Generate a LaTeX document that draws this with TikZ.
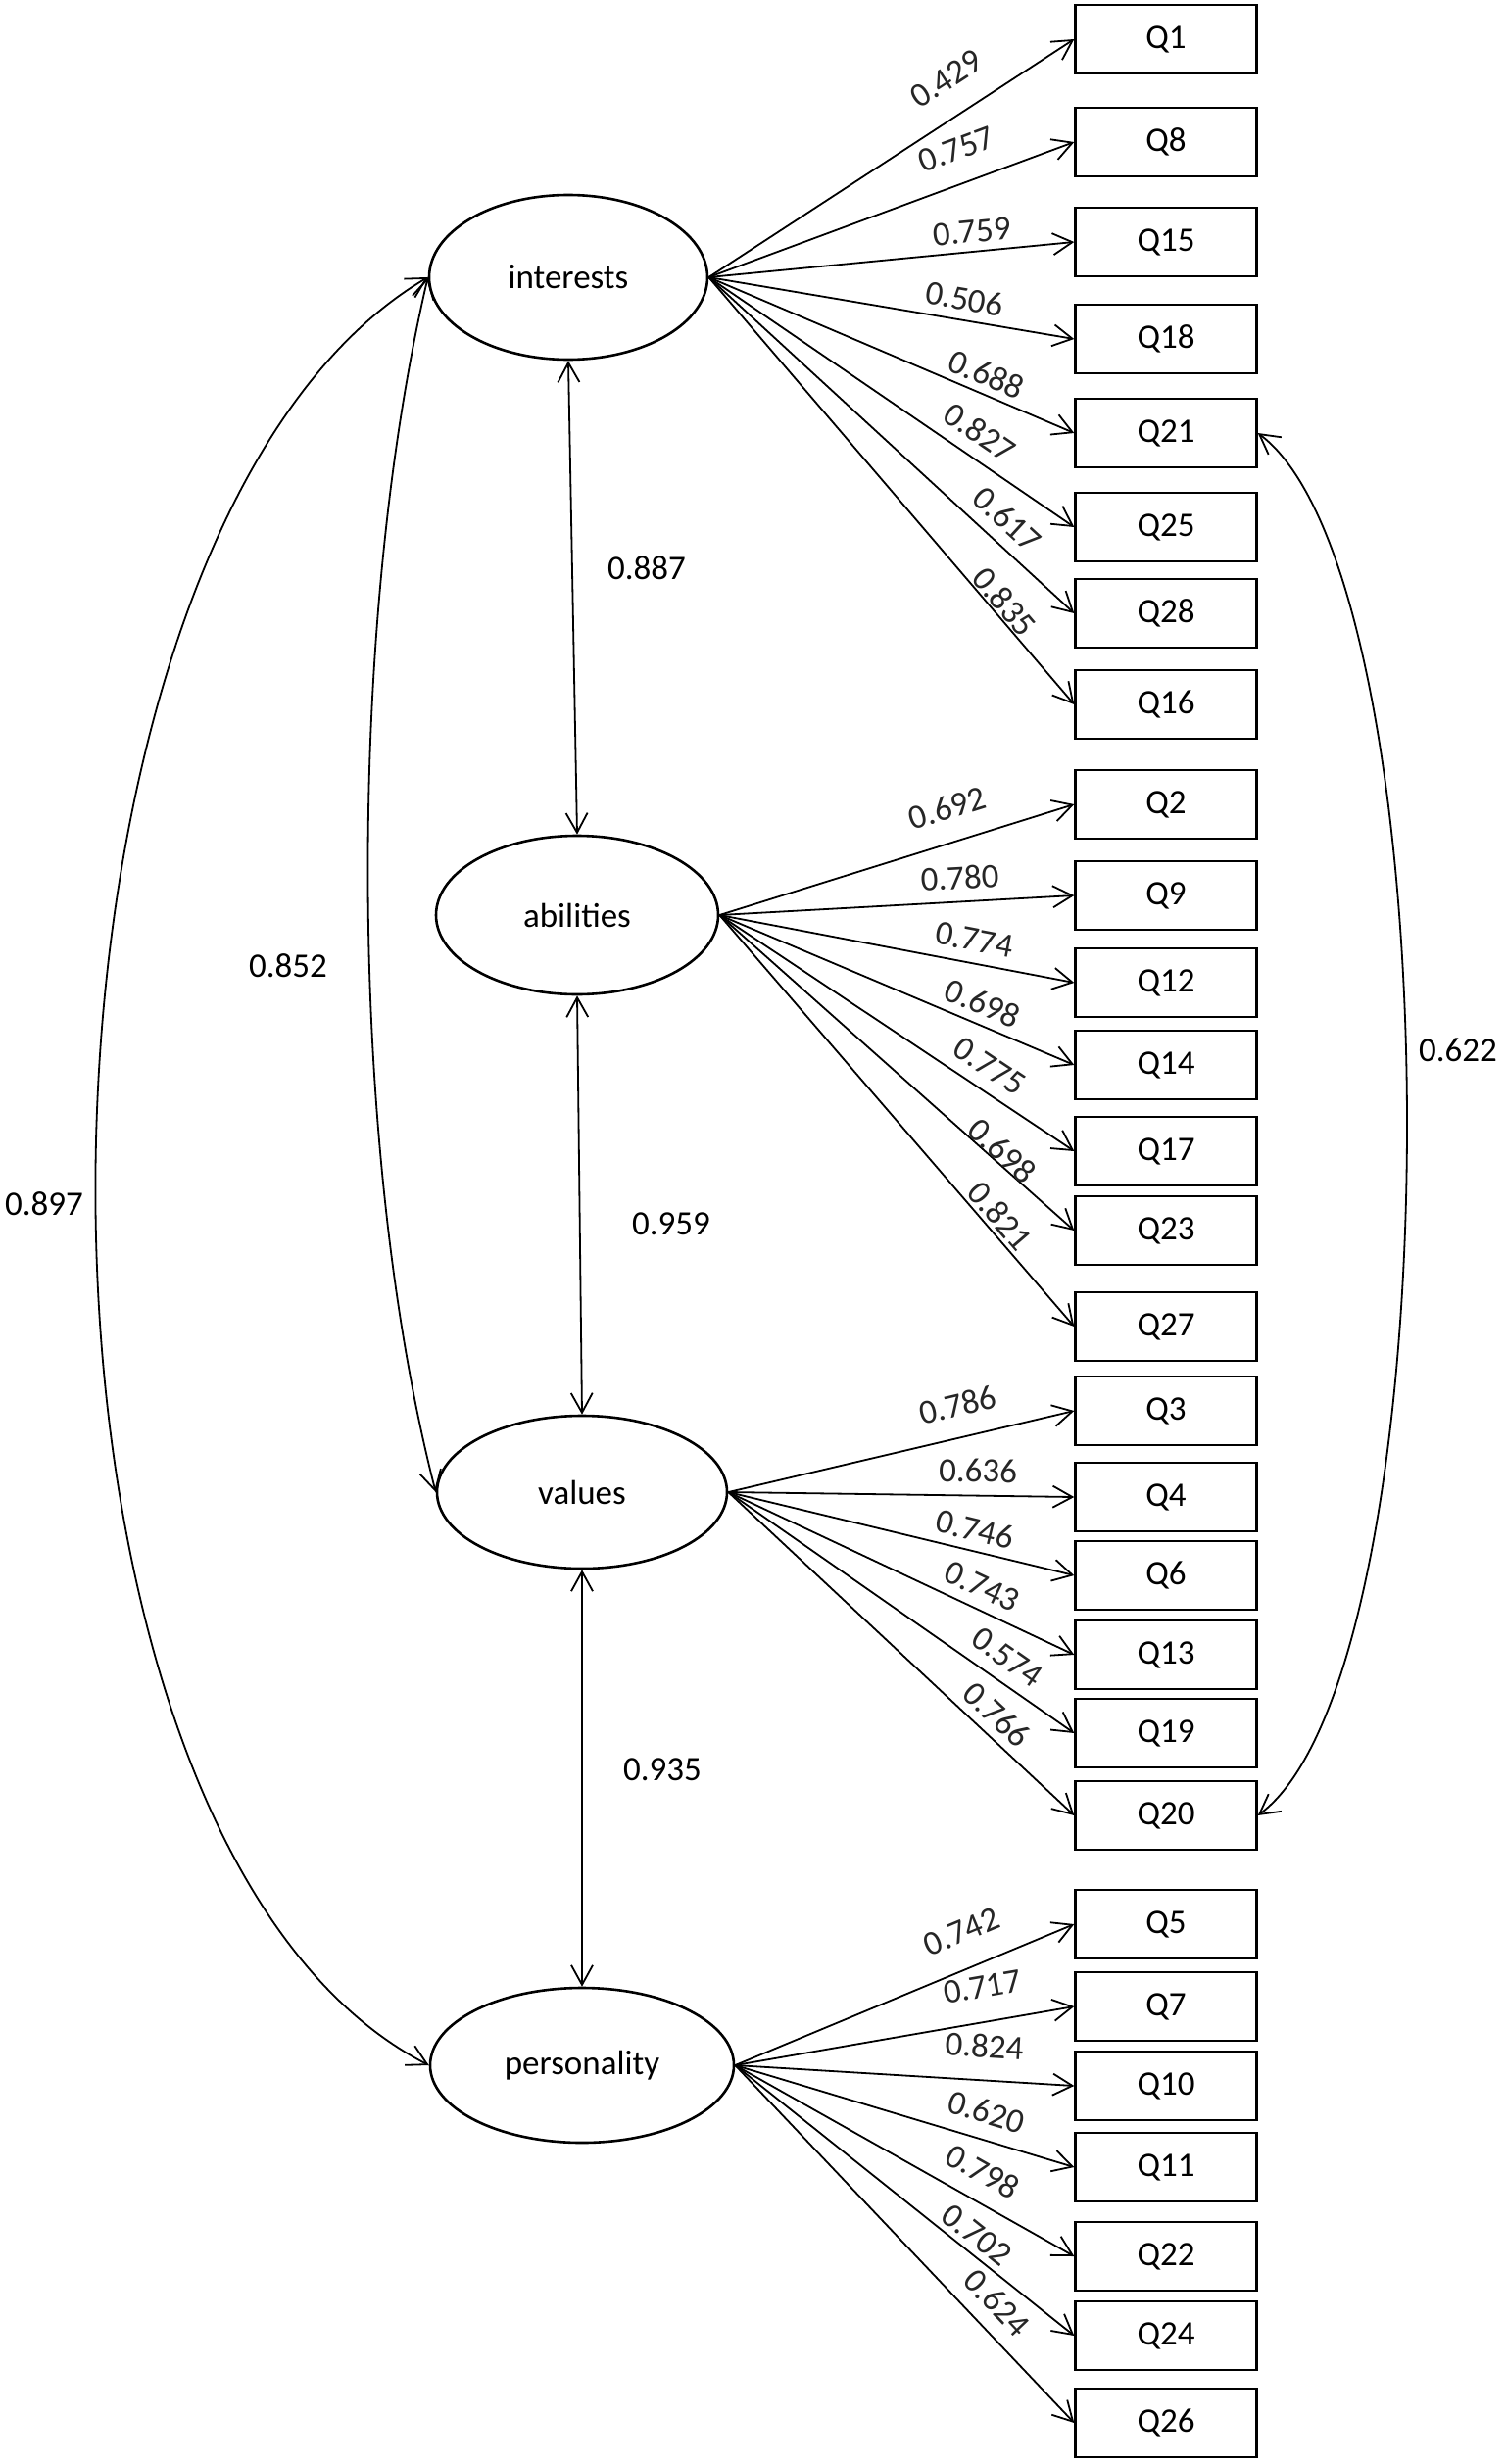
\documentclass[tikz,border=0pt]{standalone}
\usepackage{fontspec}
\setmainfont{Carlito}
\usetikzlibrary{shapes.geometric,arrows.meta}
\newcommand\lblfont{\fontsize{17.5pt}{21pt}\selectfont}
\begin{document}
\begin{tikzpicture}[x=0.5pt,y=-0.5pt,
  lat/.style={ellipse,draw,line width=1.3pt,inner sep=0pt,font=\lblfont},
  obs/.style={rectangle,draw,line width=1.2pt,minimum width=92.5pt,minimum height=35pt,inner sep=0pt,font=\lblfont},
  conn/.style={-{Straight Barb[length=10pt,width=11pt]},line width=0.9pt},
  cov/.style={{Straight Barb[length=10pt,width=11pt]}-{Straight Barb[length=10pt,width=11pt]},line width=0.9pt},
  lab/.style={sloped,anchor=south,inner sep=0pt,font=\lblfont,text=black!85},
  num/.style={font=\lblfont,inner sep=0pt}]
\fill[white] (0,0) rectangle (1536,2515);
\useasboundingbox (0,0) rectangle (1536,2515);

% latent variables
\node[lat,minimum width=142pt,minimum height=84pt] (int) at (580,283) {interests};
\node[lat,minimum width=144pt,minimum height=81pt] (abi) at (589,934) {abilities};
\node[lat,minimum width=148pt,minimum height=78pt] (val) at (594,1523) {values};
\node[lat,minimum width=155pt,minimum height=79pt] (per) at (594,2108) {personality};

% observed items
\foreach \n/\y in {1/40,8/145,15/247,18/346,21/442,25/538,28/626,16/719,
  2/821,9/914,12/1003,14/1087,17/1175,23/1256,27/1354,
  3/1440,4/1528,6/1608,13/1689,19/1769,20/1853,
  5/1964,7/2048,10/2129,11/2212,22/2303,24/2384,26/2473}
  \node[obs] (q\n) at (1190,\y) {Q\n};

% loadings: interests
\foreach \q/\t/\g/\v in {1/0.705/12.9/0.429, 8/0.710/11.6/0.757, 15/0.726/4.6/0.759,
  18/0.690/5.0/0.506, 21/0.739/4.1/0.688, 25/0.703/6.9/0.827, 28/0.773/6.2/0.617,
  16/0.781/1.1/0.835}
  \draw[conn] (int.east) -- (q\q.west) node[lab,pos=\t,outer ysep=\g pt] {\v};

% loadings: abilities
\foreach \q/\t/\g/\v in {2/0.670/11.6/0.692, 9/0.681/6.3/0.780, 12/0.707/6.2/0.774,
  14/0.719/4.9/0.698, 17/0.724/6.4/0.775, 23/0.775/0.0/0.698, 27/0.757/2.1/0.821}
  \draw[conn] (abi.east) -- (q\q.west) node[lab,pos=\t,outer ysep=\g pt] {\v};

% loadings: values
\foreach \q/\t/\g/\v in {3/0.685/10.6/0.786, 4/0.721/6.8/0.636, 6/0.699/5.1/0.746,
  13/0.706/5.8/0.743, 19/0.767/6.6/0.574, 20/0.736/4.7/0.766}
  \draw[conn] (val.east) -- (q\q.west) node[lab,pos=\t,outer ysep=\g pt] {\v};

% loadings: personality
\foreach \q/\t/\g/\v in {5/0.709/12.9/0.742, 7/0.747/12.1/0.717, 10/0.729/11.4/0.824,
  11/0.718/8.2/0.620, 22/0.689/8.8/0.798, 24/0.680/3.5/0.702, 26/0.715/7.8/0.624}
  \draw[conn] (per.east) -- (q\q.west) node[lab,pos=\t,outer ysep=\g pt] {\v};

% correlations between adjacent factors
\draw[cov] (int.south) -- (abi.north);
\draw[cov] (abi.south) -- (val.north);
\draw[cov] (val.south) -- (per.north);
\node[num] (c887) at (660,580) {0.887};
\node[num] (c959) at (685,1249) {0.959};
\node[num] (c935) at (676,1806) {0.935};

% long correlations on the left
\draw[cov] (int.west) .. controls (354,636) and (354,1170) .. (val.west);
\draw[cov] (int.west) .. controls (-8,545) and (-22,1872) .. (per.west);
\node[num] (c852) at (294,986) {0.852};
\node[num] (c897) at (45,1229) {0.897};

% error correlation on the right
\draw[cov] (q21.east) .. controls (1486,593) and (1486,1703) .. (q20.east);
\node[num] (c622) at (1488,1072) {0.622};
\end{tikzpicture}
\end{document}
